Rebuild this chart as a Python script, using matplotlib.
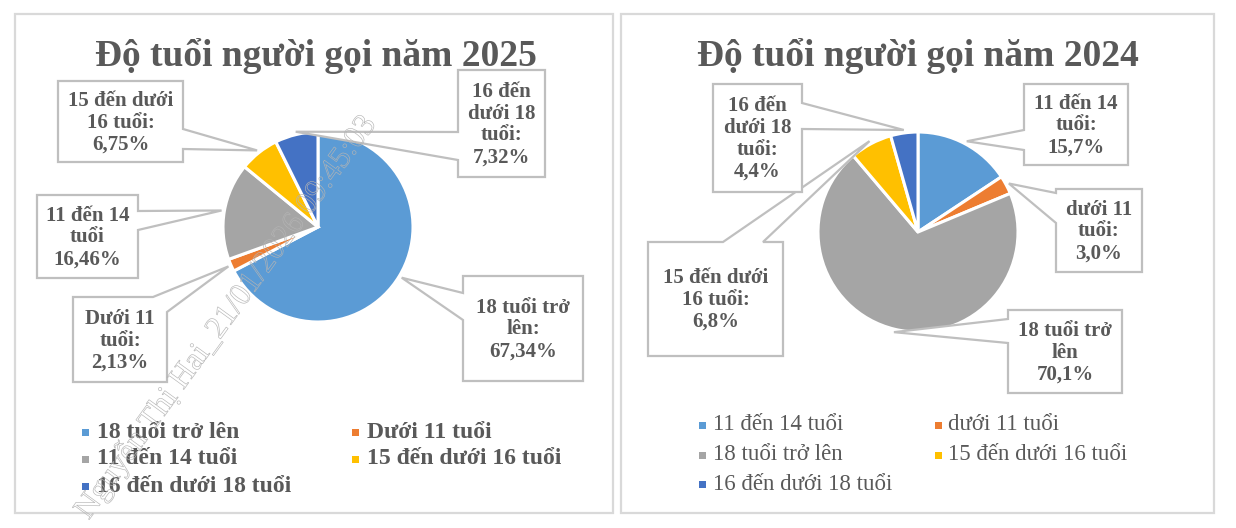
import matplotlib
matplotlib.use('Agg')
import matplotlib.pyplot as plt
from matplotlib.patches import Polygon, Rectangle
import matplotlib.patheffects as pe
import numpy as np

W, H = 1236, 528

colors = ['#5B9BD5', '#ED7D31', '#A5A5A5', '#FFC000', '#4472C4']

labels_2025 = ['18 tuổi trở lên', 'Dưới 11 tuổi', '11 đến 14 tuổi',
               '15 đến dưới 16 tuổi', '16 đến dưới 18 tuổi']
values_2025 = [67.34, 2.13, 16.46, 6.75, 7.32]
callouts_2025 = ['18 tuổi trở\nlên:\n67,34%', 'Dưới 11\ntuổi:\n2,13%',
                 '11 đến 14\ntuổi\n16,46%', '15 đến dưới\n16 tuổi:\n6,75%',
                 '16 đến\ndưới 18\ntuổi:\n7,32%']

labels_2024 = ['11 đến 14 tuổi', 'dưới 11 tuổi', '18 tuổi trở lên',
               '15 đến dưới 16 tuổi', '16 đến dưới 18 tuổi']
values_2024 = [15.7, 3.0, 70.1, 6.8, 4.4]
callouts_2024 = ['11 đến 14\ntuổi:\n15,7%', 'dưới 11\ntuổi:\n3,0%',
                 '18 tuổi trở\nlên\n70,1%', '15 đến dưới\n16 tuổi:\n6,8%',
                 '16 đến\ndưới 18\ntuổi:\n4,4%']

# layout in pixel coords (y down): box (x0, y0, x1, y1) and wedge base points
boxes_2025 = [(463, 276, 583, 381), (73, 297, 167, 382), (37, 195, 138, 278),
              (58, 81, 183, 162), (458, 70, 545, 177)]
bases_2025 = [[(463, 293), (463, 320)], [(153, 297), (167, 312)],
              [(138, 211), (138, 230)], [(183, 129), (183, 149)],
              [(458, 132), (458, 160)]]
boxes_2024 = [(1024, 84, 1128, 165), (1056, 189, 1142, 272), (1008, 310, 1122, 393),
              (648, 242, 783, 356), (713, 84, 802, 192)]
bases_2024 = [[(1024, 130), (1024, 150)], [(1056, 193), (1056, 223)],
              [(1008, 319), (1008, 343)], [(723, 242), (763, 242)],
              [(802, 103), (802, 129)]]

TXT = '#595959'
EDGE = '#BFBFBF'
SERIF = 'Liberation Serif'


def callout(ax, box, base, tip, text):
    x0, y0, x1, y1 = box
    w, h = x1 - x0, y1 - y0

    def t(p):
        x, y = p
        if abs(y - y0) < 0.5:
            return x - x0
        if abs(x - x1) < 0.5:
            return w + (y - y0)
        if abs(y - y1) < 0.5:
            return w + h + (x1 - x)
        return 2 * w + h + (y1 - y)

    corners = [((x0, y0), 0), ((x1, y0), w), ((x1, y1), w + h), ((x0, y1), 2 * w + h)]
    b = sorted(base, key=t)
    ta, tb = t(b[0]), t(b[1])
    pts = [c for c, tc in corners if tc < ta] + [b[0], tip, b[1]] + \
          [c for c, tc in corners if tc > tb]
    ax.add_patch(Polygon(pts, closed=True, fc='white', ec=EDGE, lw=1.6, zorder=3))
    ax.text((x0 + x1) / 2, (y0 + y1) / 2 + 1, text, ha='center', va='center',
            fontsize=15, fontweight='bold', family=SERIF, color=TXT,
            linespacing=1.12, zorder=4)


def draw_panel(ax, values, labels, callouts, boxes, bases, center, radius,
               title, title_x, leg_x, leg_rows, leg_bold):
    wedges, _ = ax.pie(values, colors=colors, startangle=-90, counterclock=True,
                       center=center, radius=radius, frame=True,
                       wedgeprops=dict(edgecolor='white', linewidth=2.2))
    for wdg, txt, box, base in zip(wedges, callouts, boxes, bases):
        th = np.deg2rad((wdg.theta1 + wdg.theta2) / 2)
        tip = (center[0] + radius * 1.03 * np.cos(th),
               center[1] + radius * 1.03 * np.sin(th))
        callout(ax, box, base, tip, txt)

    ax.text(title_x, 56, title, ha='center', va='center', fontsize=27,
            fontweight='bold', family=SERIF, color=TXT)

    for i, lab in enumerate(labels):
        r, c = divmod(i, 2)
        mx, tx = leg_x[c]
        y = leg_rows[r]
        ax.add_patch(Rectangle((mx - 3.5, y - 3.5), 7, 7, color=colors[i], lw=0))
        ax.text(tx, y, lab, ha='left', va='center',
                fontsize=17 if leg_bold else 16.5,
                fontweight='bold' if leg_bold else 'normal', family=SERIF, color=TXT)


fig = plt.figure(figsize=(W / 100, H / 100), dpi=100)
ax = fig.add_axes([0, 0, 1, 1])

draw_panel(ax, values_2025, labels_2025, callouts_2025, boxes_2025, bases_2025,
           (318, 227), 95, 'Độ tuổi người gọi năm 2025', 316,
           [(85, 97), (355, 367)], [432, 459, 486], True)
draw_panel(ax, values_2024, labels_2024, callouts_2024, boxes_2024, bases_2024,
           (918, 232), 100, 'Độ tuổi người gọi năm 2024', 918,
           [(702, 713), (938, 948)], [425, 455, 484], False)

# panel borders
ax.add_patch(Rectangle((15, 14), 598, 499, fill=False, ec='#D9D9D9', lw=1.6))
ax.add_patch(Rectangle((621, 14), 593, 499, fill=False, ec='#D9D9D9', lw=1.6))

# watermark
ax.text(226, 317, 'Nguyễn Thị Hai_21/01/2026 09:45:03', rotation=54,
        rotation_mode='anchor', ha='center', va='center', fontsize=23,
        family=SERIF, color='none', zorder=10,
        path_effects=[pe.withStroke(linewidth=0.45, foreground='#B4B4B4')])

ax.set_xlim(0, W)
ax.set_ylim(H, 0)
ax.set_aspect('equal')
ax.axis('off')

fig.savefig('out.png', dpi=100, facecolor='white')
